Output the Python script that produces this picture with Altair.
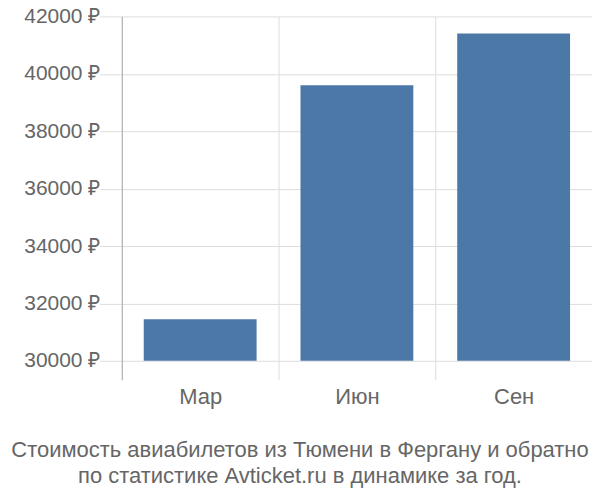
import altair as alt
import pandas as pd

months = ["Мар", "Июн", "Сен"]
prices = [31450, 39600, 41400]
y_ticks = [30000, 32000, 34000, 36000, 38000, 40000, 42000]
title_lines = [
    "Стоимость авиабилетов из Тюмени в Фергану и обратно",
    "по статистике Avticket.ru в динамике за год.",
]

df = pd.DataFrame({"month": months, "price": prices})

FONT = "Liberation Sans"
TXT = "#666666"
GRID = "#dddddd"

chart = (
    alt.Chart(df)
    .mark_bar(color="#4c78a8", width=alt.RelativeBandSize(0.72))
    .encode(
        x=alt.X(
            "month:N",
            sort=months,
            title=None,
            scale=alt.Scale(paddingInner=0, paddingOuter=0),
            axis=alt.Axis(
                domain=False,
                ticks=False,
                grid=True,
                tickBand="extent",
                gridColor=GRID,
                labelFont=FONT,
                labelFontSize=22,
                labelColor=TXT,
                labelPadding=7,
                labelAngle=0,
            ),
        ),
        y=alt.Y(
            "price:Q",
            title=None,
            scale=alt.Scale(domain=[29340, 42000], nice=False, zero=False),
            axis=alt.Axis(
                values=y_ticks,
                labelExpr="format(datum.value, 'd') + ' ₽'",
                domain=True,
                domainColor="#aaaaaa",
                tickSize=22,
                tickColor=GRID,
                gridColor=GRID,
                labelFont=FONT,
                labelFontSize=21,
                labelColor=TXT,
                labelPadding=0,
            ),
        ),
        y2=alt.datum(30000),
    )
    .properties(
        width=471,
        height=364,
        autosize=alt.AutoSizeParams(type="none"),
        padding={"left": 114, "top": 8, "right": 0, "bottom": 110},
        title=alt.TitleParams(
            text=title_lines,
            orient="bottom",
            anchor="middle",
            frame="group",
            dx=-57,
            font=FONT,
            fontSize=22,
            fontWeight="normal",
            color=TXT,
            lineHeight=26,
            offset=32,
        ),
    )
    .configure_view(stroke=None)
)

chart.save("out.html", embed_options={"renderer": "svg", "actions": False})
